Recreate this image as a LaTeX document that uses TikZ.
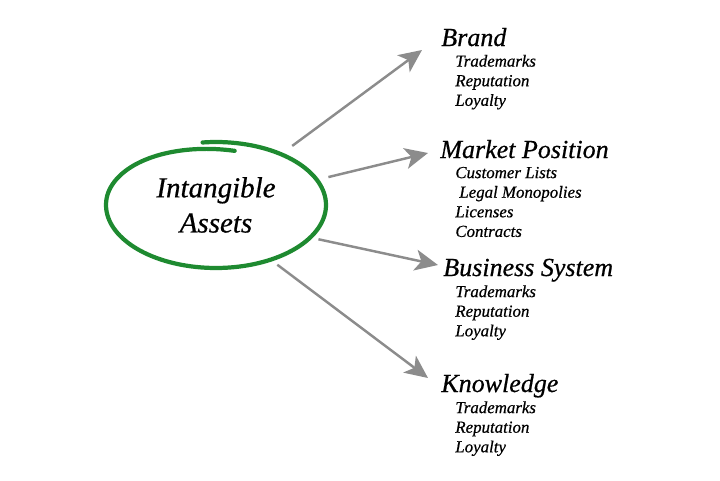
\documentclass[tikz,border=0pt]{standalone}
\usepackage{fontspec}
\setmainfont{Liberation Serif}[ItalicFeatures={FakeBold=0.6}]
\usetikzlibrary{arrows.meta,positioning,shapes.geometric}
\definecolor{ringgreen}{RGB}{30,138,48}
\definecolor{arrowgray}{RGB}{140,140,140}

\begin{document}
\begin{tikzpicture}[
  core/.style={ellipse, minimum width=4.4cm, minimum height=2.52cm, inner sep=0pt,
               align=center, font=\itshape\fontsize{16.5}{20}\selectfont},
  head/.style={anchor=base west, inner sep=0pt, font=\itshape\fontsize{14.8}{17}\selectfont},
  item/.style={anchor=base west, inner sep=0pt, font=\itshape\fontsize{9.6}{11}\selectfont},
  ring/.style={draw=ringgreen, line width=2.4pt, line cap=round},
  arr/.style={-{Stealth[length=4.6mm, width=4.2mm, inset=1.2mm]}, draw=arrowgray, line width=1.4pt}]
\useasboundingbox (0,0) rectangle (14.4,9.6);
\node[core] (core) at (4.32,5.5) {Intangible\\Assets};
\draw[ring] plot[domain=-280:97, samples=150, variable=\t]
  ({4.32+(2.2-0.05*max(0,-190-(\t))/90)*cos(\t)}, {5.5+(1.26-0.16*max(0,-190-(\t))/90)*sin(\t)});
\node[head] (brand) at (8.82,8.68) {Brand};
\node[head] (market) at (8.80,6.44) {Market Position};
\node[head] (business) at (8.86,4.08) {Business System};
\node[head] (knowledge) at (8.82,1.76) {Knowledge};
\foreach \txt [count=\i] in {Trademarks, Reputation, Loyalty}
  \node[item] (brand-\i) at ([shift={(0.28,{-0.02-0.392*\i})}]brand.base west) {\txt};
\foreach \txt [count=\i] in {Customer Lists, \hspace{0.08cm}Legal Monopolies, Licenses, Contracts}
  \node[item] (market-\i) at ([shift={(0.30,{-0.01-0.392*\i})}]market.base west) {\txt};
\foreach \txt [count=\i] in {Trademarks, Reputation, Loyalty}
  \node[item] (business-\i) at ([shift={(0.24,{-0.03-0.392*\i})}]business.base west) {\txt};
\foreach \txt [count=\i] in {Trademarks, Reputation, Loyalty}
  \node[item] (knowledge-\i) at ([shift={(0.28,{-0.03-0.392*\i})}]knowledge.base west) {\txt};
\draw[arr, shorten <=2.7mm] (core.38) -- ([shift={(-0.38,-0.08)}]brand.base west);
\draw[arr, shorten <=2.3mm] (core.14) -- ([shift={(-0.24,0.10)}]market.base west);
\draw[arr, shorten <=1.6mm] (core.-19) -- ([shift={(-0.10,0.22)}]business.base west);
\draw[arr, shorten <=1.6mm] (core.-45) -- ([shift={(-0.26,0.28)}]knowledge.base west);
\end{tikzpicture}
\end{document}
